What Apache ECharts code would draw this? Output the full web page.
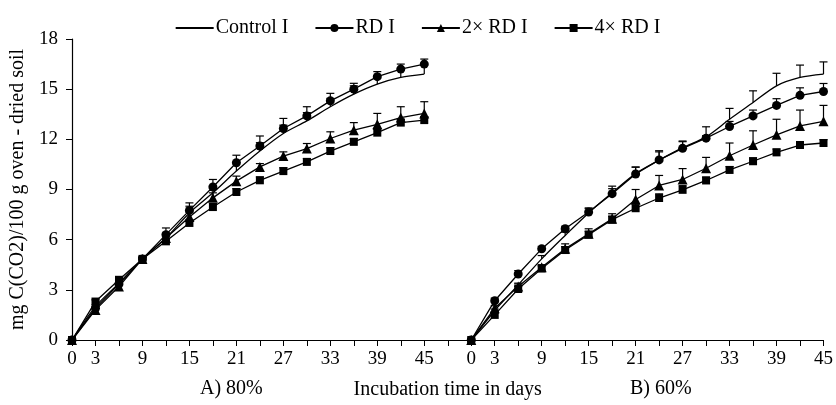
<!DOCTYPE html>
<html>
<head>
<meta charset="utf-8">
<script src="https://cdn.jsdelivr.net/npm/echarts@6/dist/echarts.min.js"></script>
<style>
  html, body { margin: 0; padding: 0; background: #fff; }
  #chart { width: 836px; height: 405px; }
</style>
</head>
<body>
<div id="chart"></div>
<script>
// incubation days, same for both panels
const days = [0, 3, 6, 9, 12, 15, 18, 21, 24, 27, 30, 33, 36, 39, 42, 45];
const shownDays = [0, 3, 9, 15, 21, 27, 33, 39, 45];

// A) 80%
const controlA = [0, 2.0, 3.4, 4.85, 6.1, 7.6, 8.8, 10.1, 11.3, 12.35, 13.1, 13.95, 14.7, 15.3, 15.7, 15.9];
const rdA      = [0, 1.9, 3.35, 4.85, 6.3, 7.75, 9.15, 10.6, 11.6, 12.65, 13.4, 14.3, 15.0, 15.75, 16.2, 16.5];
const rd2A     = [0, 1.8, 3.2, 4.85, 6.1, 7.35, 8.5, 9.5, 10.35, 11.0, 11.45, 12.05, 12.55, 12.9, 13.3, 13.55];
const rd4A     = [0, 2.3, 3.6, 4.85, 5.9, 7.0, 7.95, 8.85, 9.55, 10.1, 10.65, 11.3, 11.85, 12.4, 13.0, 13.15];
const controlErrA = [0, 0.1, 0.1, 0.1, 0.3, 0.4, 0.4, 0.5, 0.5, 0.5, 0.5, 0.5, 0.5, 0.5, 0.5, 0.55];
const rdErrA      = [0, 0.1, 0.1, 0.1, 0.4, 0.45, 0.45, 0.45, 0.6, 0.6, 0.55, 0.45, 0.35, 0.3, 0.3, 0.3];
const rd2ErrA     = [0, 0.1, 0.1, 0.1, 0.2, 0.3, 0.3, 0.3, 0.2, 0.25, 0.3, 0.4, 0.45, 0.65, 0.65, 0.7];
const rd4ErrA     = [0, 0.1, 0.1, 0.1, 0.15, 0.15, 0.2, 0.2, 0.2, 0.2, 0.2, 0.2, 0.2, 0.2, 0.2, 0.2];

// B) 60%
const controlB = [0, 1.75, 3.3, 4.85, 6.25, 7.6, 8.8, 9.95, 10.75, 11.5, 12.15, 13.2, 14.2, 15.2, 15.7, 15.9];
const rdB      = [0, 2.35, 3.95, 5.45, 6.65, 7.65, 8.75, 9.93, 10.77, 11.46, 12.07, 12.77, 13.4, 14.03, 14.63, 14.86];
const rd2B     = [0, 1.9, 3.2, 4.35, 5.45, 6.35, 7.25, 8.4, 9.24, 9.6, 10.27, 11.02, 11.66, 12.27, 12.8, 13.08];
const rd4B     = [0, 1.5, 3.05, 4.28, 5.38, 6.3, 7.2, 7.88, 8.49, 8.98, 9.54, 10.17, 10.69, 11.22, 11.66, 11.78];
const controlErrB = [0, 0.1, 0.1, 0.2, 0.2, 0.3, 0.4, 0.4, 0.5, 0.4, 0.6, 0.65, 0.7, 0.75, 0.74, 0.73];
const rdErrB      = [0, 0.15, 0.2, 0.15, 0.15, 0.2, 0.3, 0.4, 0.55, 0.4, 0.15, 0.3, 0.35, 0.4, 0.45, 0.48];
const rd2ErrB     = [0, 0.15, 0.15, 0.15, 0.3, 0.3, 0.3, 0.6, 0.6, 0.65, 0.65, 0.76, 0.85, 0.93, 0.95, 0.95];
const rd4ErrB     = [0, 0.1, 0.15, 0.15, 0.2, 0.2, 0.2, 0.25, 0.25, 0.25, 0.2, 0.2, 0.2, 0.2, 0.2, 0.2];

const yTicks = [0, 3, 6, 9, 12, 15, 18];

// one long category axis: panel A, one empty slot, panel B
const categories = days.map(d => 'A' + d).concat(['gap'], days.map(d => 'B' + d));
const tickLabels = days.map(d => shownDays.includes(d) ? String(d) : '')
  .concat([''], days.map(d => shownDays.includes(d) ? String(d) : ''));

const join = (a, b) => a.concat([null], b);
const font = 'Liberation Serif';

function errData(vals, errs) {
  const out = [];
  vals.forEach((v, i) => {
    if (v != null && errs[i] > 0) out.push([i, v, errs[i]]);
  });
  return out;
}

function errSeries(vals, errs) {
  return {
    type: 'custom',
    data: errData(vals, errs),
    encode: { x: 0, y: 1 },
    z: 1,
    silent: true,
    renderItem: function (params, api) {
      const i = api.value(0);
      const p0 = api.coord([i, api.value(1)]);
      const p1 = api.coord([i, api.value(1) + api.value(2)]);
      const style = { stroke: '#000', lineWidth: 1.2 };
      return {
        type: 'group',
        children: [
          { type: 'line', shape: { x1: p0[0], y1: p0[1], x2: p1[0], y2: p1[1] }, style: style },
          { type: 'line', shape: { x1: p1[0] - 4, y1: p1[1], x2: p1[0] + 4, y2: p1[1] }, style: style }
        ]
      };
    }
  };
}

function lineSeries(name, vals, symbol, size, smooth) {
  return {
    name: name,
    type: 'line',
    data: vals,
    symbol: symbol,
    symbolSize: size,
    showSymbol: symbol !== 'none',
    smooth: smooth,
    z: 3,
    itemStyle: { color: '#000' },
    lineStyle: { color: '#000', width: 1.3 }
  };
}

const control = join(controlA, controlB);
const rd = join(rdA, rdB);
const rd2 = join(rd2A, rd2B);
const rd4 = join(rd4A, rd4B);

const chart = echarts.init(document.getElementById('chart'));
chart.setOption({
  animation: false,
  backgroundColor: '#fff',
  textStyle: { fontFamily: font, color: '#000' },
  legend: {
    data: [{ name: 'Control I', icon: 'path://M0,0L40,0L40,2L0,2Z' }, 'RD I', '2× RD I', '4× RD I'],
    top: 13,
    left: 'center',
    itemWidth: 38,
    itemHeight: 10,
    itemGap: 26,
    textStyle: { fontFamily: font, fontSize: 20, color: '#000', padding: [0, 0, 0, -3] }
  },
  grid: { left: 65.7, right: 12.5, top: 39, bottom: 62.7 },
  xAxis: {
    type: 'category',
    data: categories,
    boundaryGap: false,
    name: 'Incubation time in days',
    nameLocation: 'middle',
    nameGap: 40,
    nameTextStyle: { fontFamily: font, fontSize: 20, color: '#000' },
    axisLine: { lineStyle: { color: '#000', width: 1.2 } },
    axisTick: { show: true, interval: 0, length: 6, lineStyle: { color: '#000' } },
    axisLabel: {
      interval: 0,
      margin: 10,
      fontFamily: font,
      fontSize: 19,
      color: '#000',
      formatter: (v, i) => tickLabels[i]
    },
    splitLine: { show: false }
  },
  yAxis: {
    type: 'value',
    min: yTicks[0],
    max: yTicks[yTicks.length - 1],
    interval: 3,
    name: 'mg C(CO2)/100 g oven - dried soil',
    nameLocation: 'middle',
    nameGap: 44,
    nameTextStyle: { fontFamily: font, fontSize: 20, color: '#000' },
    axisLine: { show: true, lineStyle: { color: '#000', width: 1.2 } },
    axisTick: { show: true, length: 6, lineStyle: { color: '#000' } },
    axisLabel: { margin: 14, fontFamily: font, fontSize: 19, color: '#000' },
    splitLine: { show: false }
  },
  graphic: [
    { type: 'text', left: 200, top: 379, style: { text: 'A) 80%', font: '20px "Liberation Serif"', fill: '#000' } },
    { type: 'text', left: 630, top: 379, style: { text: 'B) 60%', font: '20px "Liberation Serif"', fill: '#000' } }
  ],
  series: [
    errSeries(control, join(controlErrA, controlErrB)),
    errSeries(rd, join(rdErrA, rdErrB)),
    errSeries(rd2, join(rd2ErrA, rd2ErrB)),
    errSeries(rd4, join(rd4ErrA, rd4ErrB)),
    lineSeries('Control I', control, 'none', 0, 0.3),
    lineSeries('RD I', rd, 'circle', 9, false),
    lineSeries('2× RD I', rd2, 'triangle', 10, false),
    lineSeries('4× RD I', rd4, 'rect', 8, false)
  ]
});
</script>
</body>
</html>
